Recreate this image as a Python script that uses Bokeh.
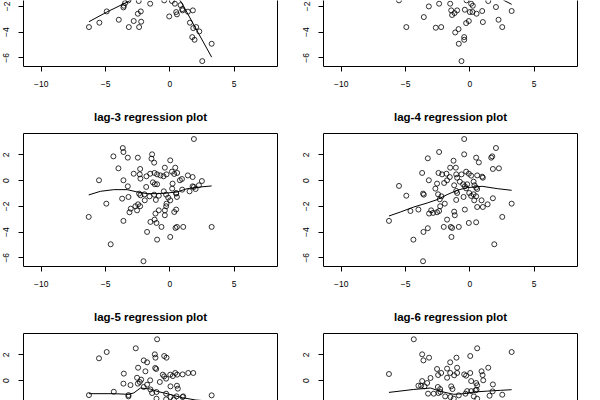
from bokeh.plotting import figure
from bokeh.models import LinearAxis, FixedTicker
from bokeh.layouts import row, column
from bokeh.embed import file_html
from bokeh.resources import INLINE

titles = ["lag-1 regression plot", "lag-2 regression plot", "lag-3 regression plot",
          "lag-4 regression plot", "lag-5 regression plot", "lag-6 regression plot"]
x_ticks = [-10, -5, 0, 5]
y_ticks = [-6, -4, -2, 0, 2]

# lag-1 (only lower part visible)
lag1_x = [-6.29, -5.48, -4.91, -3.97, -3.58, -3.61, -3.48, -3.22, -3.19, -2.81, -2.49, -2.39, -2.26,
          -2.23, -2.42, -1.53, -0.44, -0.05, 0.16, 0.39, 0.49, 0.55, 0.83, 0.96, 0.99, 1.40, 1.79,
          1.56, 1.82, 2.05, 2.29, 1.74, 1.92, 3.25, 2.52]
lag1_y = [-3.61, -3.27, -2.39, -3.04, -1.95, -2.08, -1.74, -1.53, -3.61, -3.14, -2.57, -3.61, -2.39,
          -3.19, -1.58, -1.79, -1.53, -2.78, -1.58, -1.79, -2.44, -2.62, -1.90, -2.21, -2.31, -2.41, -2.31,
          -3.27, -3.69, -3.61, -3.95, -4.39, -4.60, -4.91, -6.26]
lag1_fit_x = [-6.29, -4.9, -3.32, -2.0, -0.5, 0.5, 0.96, 2.1, 3.25]
lag1_fit_y = [-3.19, -2.44, -1.66, -0.95, -0.6, -1.1, -1.79, -3.87, -5.95]

# lag-2 (only lower part visible)
lag2_x = [-5.51, -4.94, -3.58, -3.19, -2.65, -2.23, -2.39, -1.53, -1.45, -1.38, -1.19, -0.99, -1.14,
          -0.88, -0.86, -0.65, -0.44, -0.44, -0.39, -0.29, -0.08, -0.26, 0.10, 0.23, 0.0, 0.21, 0.52,
          0.96, 1.01, 1.43, 2.03, 2.23, 2.52, 3.25]
lag2_y = [-1.53, -3.61, -2.83, -2.0, -3.66, -3.61, -1.79, -1.79, -2.31, -2.67, -2.52, -2.31, -4.03,
          -3.77, -4.91, -6.26, -4.39, -4.60, -2.26, -3.30, -3.14, -1.53, -1.79, -1.95, -2.44, -2.44, -2.57,
          -2.36, -3.22, -1.58, -2.05, -3.04, -3.61, -2.36]
lag2_fit_x = [-6.29, -4.0, -2.0, 0.0, 1.5, 2.4, 2.65, 3.25]
lag2_fit_y = [-0.9, -0.7, -0.6, -0.7, -1.0, -1.3, -1.53, -1.84]

# lag-3
lag3_x = [1.87, -3.66, -3.61, -1.38, -4.39, -3.27, -2.49, -1.43, -1.22, 0.03, -4.0, -2.31, -0.39, 0.42,
          -2.81, -2.34, -2.29, -1.53, -1.19, -0.99, -1.82, -0.73, -0.49, -0.26, 0.16, 0.34, 0.57, 1.40,
          1.77, 2.49, 0.94, 0.78, -5.51, -3.61, -1.32, -1.17, -0.99, 0.21, -3.27, -1.84, 0.18, 0.96,
          1.53, 1.77, 1.87, 2.0, 2.26, -0.47, 0.49, -2.39, -1.97, -2.29, -1.58, -1.22, -0.86, -0.29,
          -0.13, 0.49, 0.55, -3.71, -3.22, -1.09, -1.95, 0.03, -4.94, -0.26, -2.47, -2.31, -2.68, -0.29,
          -3.04, -2.55, -3.14, 0.49, 0.34, -0.86, -1.12, -0.39, -0.39, -6.31, -3.61, -1.51, -1.19, -1.04,
          -0.65, 0.44, 0.55, 1.04, 3.25, -1.77, 0.03, -0.99, -4.60, -2.05]
lag3_y = [3.24, 2.54, 2.23, 2.05, 1.89, 1.79, 1.79, 1.71, 1.40, 1.58, 0.96, 0.91, 1.01, 1.01,
          0.54, 0.49, 0.16, 0.54, 0.60, 0.49, 0.34, 0.41, 0.34, 0.49, 0.70, 0.52, 0.60, 0.41,
          0.28, -0.03, 0.13, 0.03, 0.03, 0.03, -0.13, -0.28, -0.28, -0.23, -0.44, -0.49, -0.62, -0.70,
          -0.83, -0.44, -0.49, -0.65, -0.36, -0.83, -0.96, -1.01, -1.06, -1.14, -1.22, -1.09, -1.17, -1.09,
          -1.32, -1.01, -1.27, -1.40, -1.27, -1.50, -1.53, -1.53, -1.79, -1.79, -1.84, -1.99, -1.99, -1.99,
          -2.18, -2.31, -2.46, -2.25, -2.44, -2.31, -2.56, -2.31, -2.69, -2.82, -3.13, -3.21, -3.03, -3.29,
          -3.60, -3.68, -3.60, -3.60, -3.60, -3.99, -4.38, -4.59, -4.95, -6.27]
lag3_fit_x = [-6.31, -5.40, -4.36, -3.32, -2.55, -1.77, -0.99, -0.21, 0.57, 1.35, 2.39, 3.25]
lag3_fit_y = [-1.11, -0.83, -0.70, -0.70, -0.88, -1.01, -1.01, -0.96, -0.88, -0.62, -0.49, -0.41]

# lag-4
lag4_x = [-0.44, 2.03, -2.39, -0.44, 1.74, 1.66, -3.27, 0.49, 0.70, -1.27, 1.79, 2.26, -1.53, -1.09,
          -3.71, -2.44, -2.16, -1.82, -1.56, -1.06, -0.99, -0.65, -0.29, -0.08, 0.10, 0.57, 1.01, 0.96,
          -3.19, -1.77, -2.0, -2.55, -5.51, -2.68, -1.22, -0.78, -0.52, -0.39, -0.29, -0.21, 0.29, 0.36,
          0.49, 0.57, -1.06, -0.99, -2.47, -2.21, -3.58, -3.64, -4.94, -0.49, -0.05, 0.10, 0.29, 0.49,
          0.34, 0.91, 1.79, -1.06, -2.34, -1.95, -2.31, 0.57, 1.01, 1.38, 3.25, -4.62, -4.0, -3.01,
          -3.17, -2.86, -2.55, -2.39, -1.22, -1.17, -0.39, -6.29, -1.77, -0.08, 0.49, 2.52, -2.03, -1.48,
          -1.38, -0.86, -3.27, -3.61, -1.43, 1.90, -4.39, -3.64]
lag4_y = [3.24, 2.54, 2.23, 2.05, 1.89, 1.79, 1.74, 1.79, 1.42, 1.55, 0.91, 0.96, 1.01, 1.01,
          0.60, 0.60, 0.49, 0.54, 0.28, 0.49, 0.23, 0.49, 0.70, 0.54, 0.39, 0.41, 0.23, 0.31,
          0.03, 0.03, -0.18, -0.23, -0.41, -0.62, -0.36, -0.08, -0.28, -0.44, -0.60, -0.28, -0.08, -0.36,
          -0.54, -0.65, -0.80, -0.96, -1.06, -1.22, -1.09, -1.01, -1.17, -1.27, -0.96, -1.19, -1.06, -1.22,
          -1.53, -1.53, -1.37, -1.50, -1.45, -1.79, -1.99, -2.05, -2.05, -1.84, -1.79, -2.36, -2.25, -2.31,
          -2.56, -2.51, -2.46, -2.36, -2.41, -2.69, -2.25, -3.13, -3.03, -3.29, -3.24, -2.82, -3.60, -3.60,
          -3.68, -3.60, -3.70, -3.99, -4.38, -4.95, -4.59, -6.27]
lag4_fit_x = [-6.29, -5.40, -4.36, -3.32, -2.55, -1.77, -0.99, -0.21, 0.96, 2.13, 3.25]
lag4_fit_y = [-2.75, -2.44, -2.05, -1.74, -1.48, -1.09, -0.75, -0.54, -0.44, -0.62, -0.75]

# lag-5 (only upper part visible)
lag5_x = [-0.99, -5.51, -4.91, -2.65, -1.17, -1.12, -0.44, -0.26, -2.03, -1.77, -2.47, -1.90, -1.14,
          -1.06, -3.58, -0.55, -0.44, -0.29, 0.03, 0.23, 0.42, 0.57, 0.99, 1.43, 1.82, -3.61, -3.06,
          -2.55, -2.23, -1.53, -2.49, -2.34, -2.03, -1.77, -1.51, -0.78, 0.05, 0.55, 0.62, -1.38, -1.04,
          -0.29, -1.04, 0.05, 0.52, 0.99, 1.04, -6.29, -4.36, -3.22, -3.22, 3.25, 0.31, -0.29]
lag5_y = [3.22, 1.74, 2.23, 2.52, 2.05, 1.79, 1.92, 1.79, 1.58, 1.43, 1.01, 0.73, 0.99,
          0.91, 0.55, 0.47, 0.34, 0.16, 0.47, 0.36, 0.60, 0.47, 0.49, 0.60, 0.60, -0.23, -0.34,
          0.23, 0.08, 0.03, -0.23, -0.10, -0.49, -0.31, -0.68, -0.10, -0.44, -0.39, -0.62, -0.96, -0.88,
          -1.01, -1.40, -1.27, -1.22, -1.27, -1.22, -1.12, -0.86, -1.12, -1.22, -1.14, -1.45, -1.45]
lag5_fit_x = [-6.29, -4.36, -3.22, -2.8, -2.29, -1.5, -0.99, -0.21, 0.96, 2.0, 3.25]
lag5_fit_y = [-1.01, -1.01, -1.06, -0.95, -0.57, -0.65, -0.83, -1.01, -1.32, -1.5, -1.6]

# lag-6 (only upper part visible)
lag6_x = [-4.36, -3.71, -3.61, -3.17, 0.57, 0.03, -1.04, 3.25, -1.53, -0.99, -1.77, -2.55, 1.43, 0.91,
          0.99, -6.29, -2.47, -2.23, -1.77, -1.53, -1.22, -0.99, -0.44, -0.29, 0.03, -3.06, -3.71, -3.32,
          -4.0, -3.79, -3.53, -2.49, -2.31, -1.45, -1.35, 0.10, 0.49, 0.57, 1.04, 1.79, -0.21, 0.10,
          0.44, 0.52, 1.77, -3.25, -2.81, -2.44, -2.29, -1.92, -1.51, -0.86, -0.34, 0.31, 0.57, 1.53,
          2.52, -1.25]
lag6_y = [3.22, 2.05, 1.58, 1.79, 2.52, 1.92, 1.79, 2.23, 1.43, 1.01, 0.94, 0.91, 1.01, 0.73,
          0.44, 0.52, 0.44, 0.60, 0.23, 0.60, 0.42, 0.60, 0.49, 0.39, 0.60, 0.21, -0.03, -0.18,
          -0.39, -0.39, -0.44, -0.49, -0.65, -0.44, -0.65, -0.03, -0.18, -0.36, 0.03, -0.29, -0.81, -0.81,
          -0.75, -0.70, -0.83, -1.01, -1.01, -0.96, -0.88, -1.22, -1.27, -1.14, -1.01, -1.22, -1.40, -1.17,
          -1.09, -1.40]
lag6_fit_x = [-6.29, -4.36, -3.06, -2.29, -1.25, -0.47, 0.31, 1.35, 2.39, 3.25]
lag6_fit_y = [-0.91, -0.68, -0.57, -0.83, -1.06, -1.01, -0.88, -0.81, -0.75, -0.70]

X_RANGE = (-11.38, 8.37)
FONT = "Liberation Sans"


def line_axis(p, side, label=None):
    ax = LinearAxis(ticker=FixedTicker(ticks=[]), major_tick_line_color=None,
                    minor_tick_line_color=None, major_label_text_font_size="0px",
                    major_label_standoff=0, major_tick_out=0, major_tick_in=0,
                    axis_line_color="black", axis_line_width=1)
    if label is not None:
        ax.axis_label = label
        ax.axis_label_standoff = 11
        ax.axis_label_text_font = FONT
        ax.axis_label_text_font_size = "11.5px"
        ax.axis_label_text_font_style = "bold"
        ax.axis_label_text_color = "black"
    p.add_layout(ax, side)


def panel(xs, ys, fx, fy, title, kind):
    if kind == "top":
        h, bt, bb, yr = 100, 0, 34, (-6.68, -1.54)
    elif kind == "middle":
        h, bt, bb, yr = 200, 33, 34, (-6.68, 3.67)
    else:
        h, bt, bb, yr = 100, 33, 0, (-1.54, 3.67)
    p = figure(width=300, height=h, x_range=X_RANGE, y_range=yr,
               x_axis_type=None, y_axis_type=None,
               output_backend="svg", toolbar_location=None,
               min_border_left=23, min_border_right=23,
               min_border_top=bt, min_border_bottom=bb,
               outline_line_color=None, background_fill_color="white",
               border_fill_color="white")
    p.title = None
    ya = LinearAxis(ticker=FixedTicker(ticks=y_ticks), major_tick_out=5, major_tick_in=0,
                    minor_tick_line_color=None, major_label_standoff=9,
                    major_label_orientation="parallel",
                    major_label_text_font=FONT, major_label_text_font_size="8.5px",
                    major_label_text_color="black", axis_line_color="black")
    p.add_layout(ya, "left")
    line_axis(p, "right")
    if kind != "bottom":
        xa = LinearAxis(ticker=FixedTicker(ticks=x_ticks), major_tick_out=5, major_tick_in=0,
                        minor_tick_line_color=None, major_label_standoff=9,
                        major_label_text_font=FONT, major_label_text_font_size="8.5px",
                        major_label_text_color="black", axis_line_color="black")
        p.add_layout(xa, "below")
    if kind != "top":
        line_axis(p, "above", title)
    p.line(fx, fy, line_color="black", line_width=1)
    p.scatter(xs, ys, marker="circle", size=5, fill_color=None,
              line_color="black", line_width=0.8)
    return p


p1 = panel(lag1_x, lag1_y, lag1_fit_x, lag1_fit_y, titles[0], "top")
p2 = panel(lag2_x, lag2_y, lag2_fit_x, lag2_fit_y, titles[1], "top")
p3 = panel(lag3_x, lag3_y, lag3_fit_x, lag3_fit_y, titles[2], "middle")
p4 = panel(lag4_x, lag4_y, lag4_fit_x, lag4_fit_y, titles[3], "middle")
p5 = panel(lag5_x, lag5_y, lag5_fit_x, lag5_fit_y, titles[4], "bottom")
p6 = panel(lag6_x, lag6_y, lag6_fit_x, lag6_fit_y, titles[5], "bottom")

layout = column(row(p1, p2), row(p3, p4), row(p5, p6))

open("out.html", "w").write(file_html(layout, INLINE))
